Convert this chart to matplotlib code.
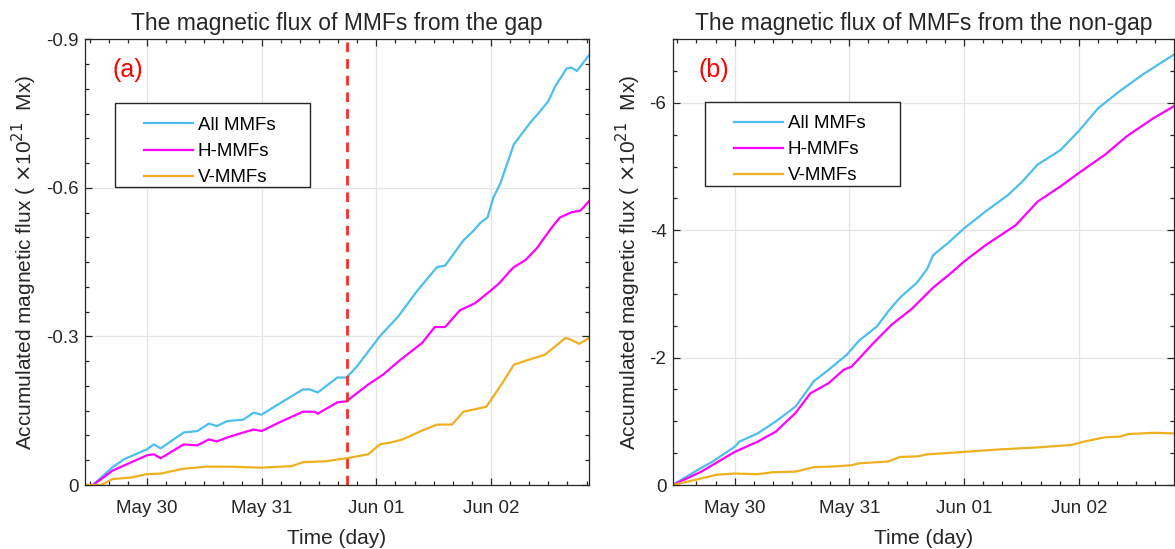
import numpy as np
import matplotlib
matplotlib.use("Agg")
import matplotlib.pyplot as plt
from matplotlib.patches import Rectangle
from matplotlib.ticker import MultipleLocator

plt.rcParams['font.family'] = ['Liberation Sans', 'DejaVu Sans']
plt.rcParams['axes.unicode_minus'] = False

# time in days relative to May 30 00:00
tick_days = [0, 1, 2, 3]
tick_labels = ['May 30', 'May 31', 'Jun 01', 'Jun 02']
series_names = ['All MMFs', 'H-MMFs', 'V-MMFs']

# panel (a): MMFs from the gap (x1e21 Mx)
gap_all_t = [-0.54, -0.47, -0.30, -0.20, 0.00, 0.06, 0.12, 0.32, 0.44, 0.54, 0.61, 0.70, 0.84, 0.93,
             1.00, 1.16, 1.36, 1.42, 1.49, 1.66, 1.74, 1.83, 2.03, 2.19, 2.36, 2.53, 2.60, 2.76,
             2.85, 2.91, 2.97, 3.02, 3.08, 3.14, 3.20, 3.34, 3.43, 3.50, 3.56, 3.66, 3.70, 3.75,
             3.855]
gap_all_v = [0, 0, -0.036, -0.052, -0.072, -0.082, -0.074, -0.106, -0.109, -0.124, -0.119, -0.129,
             -0.132, -0.146, -0.142, -0.165, -0.193, -0.193, -0.187, -0.217, -0.217, -0.239, -0.300,
             -0.340, -0.393, -0.440, -0.443, -0.494, -0.514, -0.530, -0.540, -0.580, -0.608, -0.648,
             -0.688, -0.731, -0.755, -0.775, -0.805, -0.841, -0.843, -0.836, -0.868]

gap_h_t = [-0.54, -0.47, -0.30, 0.00, 0.06, 0.12, 0.32, 0.44, 0.54, 0.61, 0.70, 0.84, 0.93, 1.00,
           1.16, 1.36, 1.46, 1.49, 1.66, 1.74, 1.93, 2.06, 2.19, 2.40, 2.51, 2.60, 2.73, 2.86,
           3.00, 3.07, 3.17, 3.20, 3.30, 3.40, 3.53, 3.60, 3.705, 3.78, 3.855]
gap_h_v = [0, 0, -0.029, -0.060, -0.062, -0.054, -0.082, -0.080, -0.092, -0.088, -0.096, -0.106,
           -0.112, -0.109, -0.127, -0.148, -0.148, -0.144, -0.167, -0.169, -0.203, -0.223, -0.249,
           -0.287, -0.319, -0.319, -0.353, -0.367, -0.393, -0.407, -0.433, -0.440, -0.454, -0.478,
           -0.520, -0.540, -0.551, -0.554, -0.573]

gap_v_t = [-0.54, -0.40, -0.30, -0.14, 0.00, 0.12, 0.32, 0.52, 0.72, 1.00, 1.16, 1.26, 1.36, 1.56,
           1.74, 1.93, 2.03, 2.13, 2.23, 2.40, 2.53, 2.66, 2.76, 2.96, 3.10, 3.20, 3.33, 3.47,
           3.65, 3.70, 3.77, 3.855]
gap_v_v = [0, 0, -0.012, -0.015, -0.022, -0.023, -0.033, -0.037, -0.037, -0.035, -0.037, -0.038,
           -0.046, -0.048, -0.054, -0.062, -0.082, -0.086, -0.092, -0.110, -0.122, -0.122, -0.148,
           -0.158, -0.206, -0.243, -0.253, -0.263, -0.297, -0.293, -0.285, -0.297]

# panel (b): MMFs from the non-gap
ng_all_t = [-0.54, -0.32, -0.19, 0.00, 0.04, 0.20, 0.36, 0.53, 0.69, 0.82, 0.98, 1.08, 1.24, 1.34,
            1.44, 1.59, 1.68, 1.73, 1.86, 2.00, 2.19, 2.38, 2.51, 2.64, 2.84, 3.00, 3.17, 3.36,
            3.56, 3.69, 3.83]
ng_all_v = [0, -0.24, -0.37, -0.60, -0.68, -0.81, -1.00, -1.23, -1.63, -1.81, -2.05, -2.26, -2.49,
            -2.73, -2.94, -3.18, -3.40, -3.61, -3.80, -4.03, -4.30, -4.55, -4.77, -5.03, -5.26,
            -5.56, -5.92, -6.19, -6.45, -6.60, -6.76]

ng_h_t = [-0.54, -0.29, 0.00, 0.20, 0.36, 0.53, 0.66, 0.82, 0.95, 1.02, 1.21, 1.37, 1.54, 1.73,
          1.90, 2.00, 2.19, 2.45, 2.64, 2.84, 3.00, 3.23, 3.42, 3.65, 3.83]
ng_h_v = [0, -0.21, -0.52, -0.68, -0.84, -1.13, -1.44, -1.60, -1.81, -1.86, -2.23, -2.52, -2.76,
          -3.10, -3.35, -3.51, -3.77, -4.08, -4.45, -4.69, -4.90, -5.19, -5.48, -5.76, -5.95]

ng_v_t = [-0.54, -0.32, -0.16, 0.00, 0.20, 0.33, 0.53, 0.69, 0.85, 1.02, 1.08, 1.34, 1.44, 1.60,
          1.67, 2.00, 2.32, 2.64, 2.94, 3.04, 3.23, 3.36, 3.43, 3.66, 3.83]
ng_v_v = [0, -0.09, -0.16, -0.18, -0.17, -0.20, -0.21, -0.28, -0.29, -0.31, -0.34, -0.37, -0.44,
          -0.45, -0.48, -0.52, -0.56, -0.59, -0.63, -0.68, -0.75, -0.76, -0.80, -0.82, -0.81]

gap_line_day = 1.743

colors = ['#4DBEEE', '#FF00FF', '#EDB120']
axis_col = '#262626'
fs = 13.5

fig = plt.figure(figsize=(11.75, 5.49), dpi=100)
ax1 = fig.add_axes([85 / 1175, 64 / 549, 504 / 1175, 445.7 / 549])
ax2 = fig.add_axes([672.7 / 1175, 64 / 549, 501.3 / 1175, 445.7 / 549])


def style_axis(ax, xright, ylim, ystep, yminor, yticklabels):
    ax.set_xlim(-0.54, xright)
    ax.set_ylim(*ylim)
    ax.set_xticks(tick_days)
    ax.set_xticklabels(tick_labels)
    ax.xaxis.set_minor_locator(MultipleLocator(1 / 6))
    ax.set_yticks(np.arange(0, ylim[1] - 1e-9, -ystep))
    ax.set_yticklabels(yticklabels)
    ax.yaxis.set_minor_locator(MultipleLocator(yminor))
    ax.tick_params(which='both', direction='in', top=True, right=True, colors=axis_col,
                   labelsize=fs, width=0.9)
    ax.tick_params(which='major', length=5)
    ax.tick_params(which='minor', length=3)
    ax.tick_params(axis='x', pad=11)
    ax.tick_params(axis='y', pad=4.5)
    for s in ax.spines.values():
        s.set_color(axis_col)
        s.set_linewidth(0.9)
    ax.grid(True, which='major', color='#e4e4e4', linewidth=0.9)
    ax.set_axisbelow(True)
    ax.set_xlabel('Time (day)', fontsize=15, color=axis_col, labelpad=8.5)
    ax.set_ylabel(r'Accumulated magnetic flux ( $\times$10$^{21}$  Mx)', fontsize=15,
                  color=axis_col, labelpad=5)


style_axis(ax1, 3.855, (0, -0.9), 0.3, 0.05, ['0', '-0.3', '-0.6', '-0.9'])
style_axis(ax2, 3.83, (0, -7.0), 2, 0.5, ['0', '-2', '-4', '-6'])

lines1 = [
    ax1.plot(gap_all_t, gap_all_v, color=colors[0], lw=1.6)[0],
    ax1.plot(gap_h_t, gap_h_v, color=colors[1], lw=1.6)[0],
    ax1.plot(gap_v_t, gap_v_v, color=colors[2], lw=1.6)[0],
]
ax1.axvline(gap_line_day, color='#FF2A2A', lw=2, linestyle=(0, (3.5, 2.5)))

lines2 = [
    ax2.plot(ng_all_t, ng_all_v, color=colors[0], lw=1.6)[0],
    ax2.plot(ng_h_t, ng_h_v, color=colors[1], lw=1.6)[0],
    ax2.plot(ng_v_t, ng_v_v, color=colors[2], lw=1.6)[0],
]

ax1.set_title('The magnetic flux of MMFs from the gap', fontsize=16.5, color=axis_col, pad=7)
ax2.set_title('The magnetic flux of MMFs from the non-gap', fontsize=16.5, color=axis_col, pad=7)

ax1.text(0.055, 0.930, '(a)', transform=ax1.transAxes, color='red', fontsize=18, va='center')
ax2.text(0.0505, 0.931, '(b)', transform=ax2.transAxes, color='red', fontsize=18, va='center')

# legends: framed box drawn separately, entries on top
for ax, lines, box, anchor in [(ax1, lines1, (0.0595, 0.668, 0.387, 0.1885), (0.1177, 0.826)),
                               (ax2, lines2, (0.0644, 0.671, 0.389, 0.189), (0.1229, 0.830))]:
    ax.add_patch(Rectangle(box[:2], box[2], box[3], transform=ax.transAxes, facecolor='white',
                           edgecolor=axis_col, lw=1.0, zorder=4))
    ax.legend(lines, series_names, loc='upper left', bbox_to_anchor=anchor, frameon=False,
              fontsize=fs, borderpad=0, borderaxespad=0, handlelength=2.61, handletextpad=0.23,
              labelspacing=0.48)

fig.savefig('out.png', dpi=100)
